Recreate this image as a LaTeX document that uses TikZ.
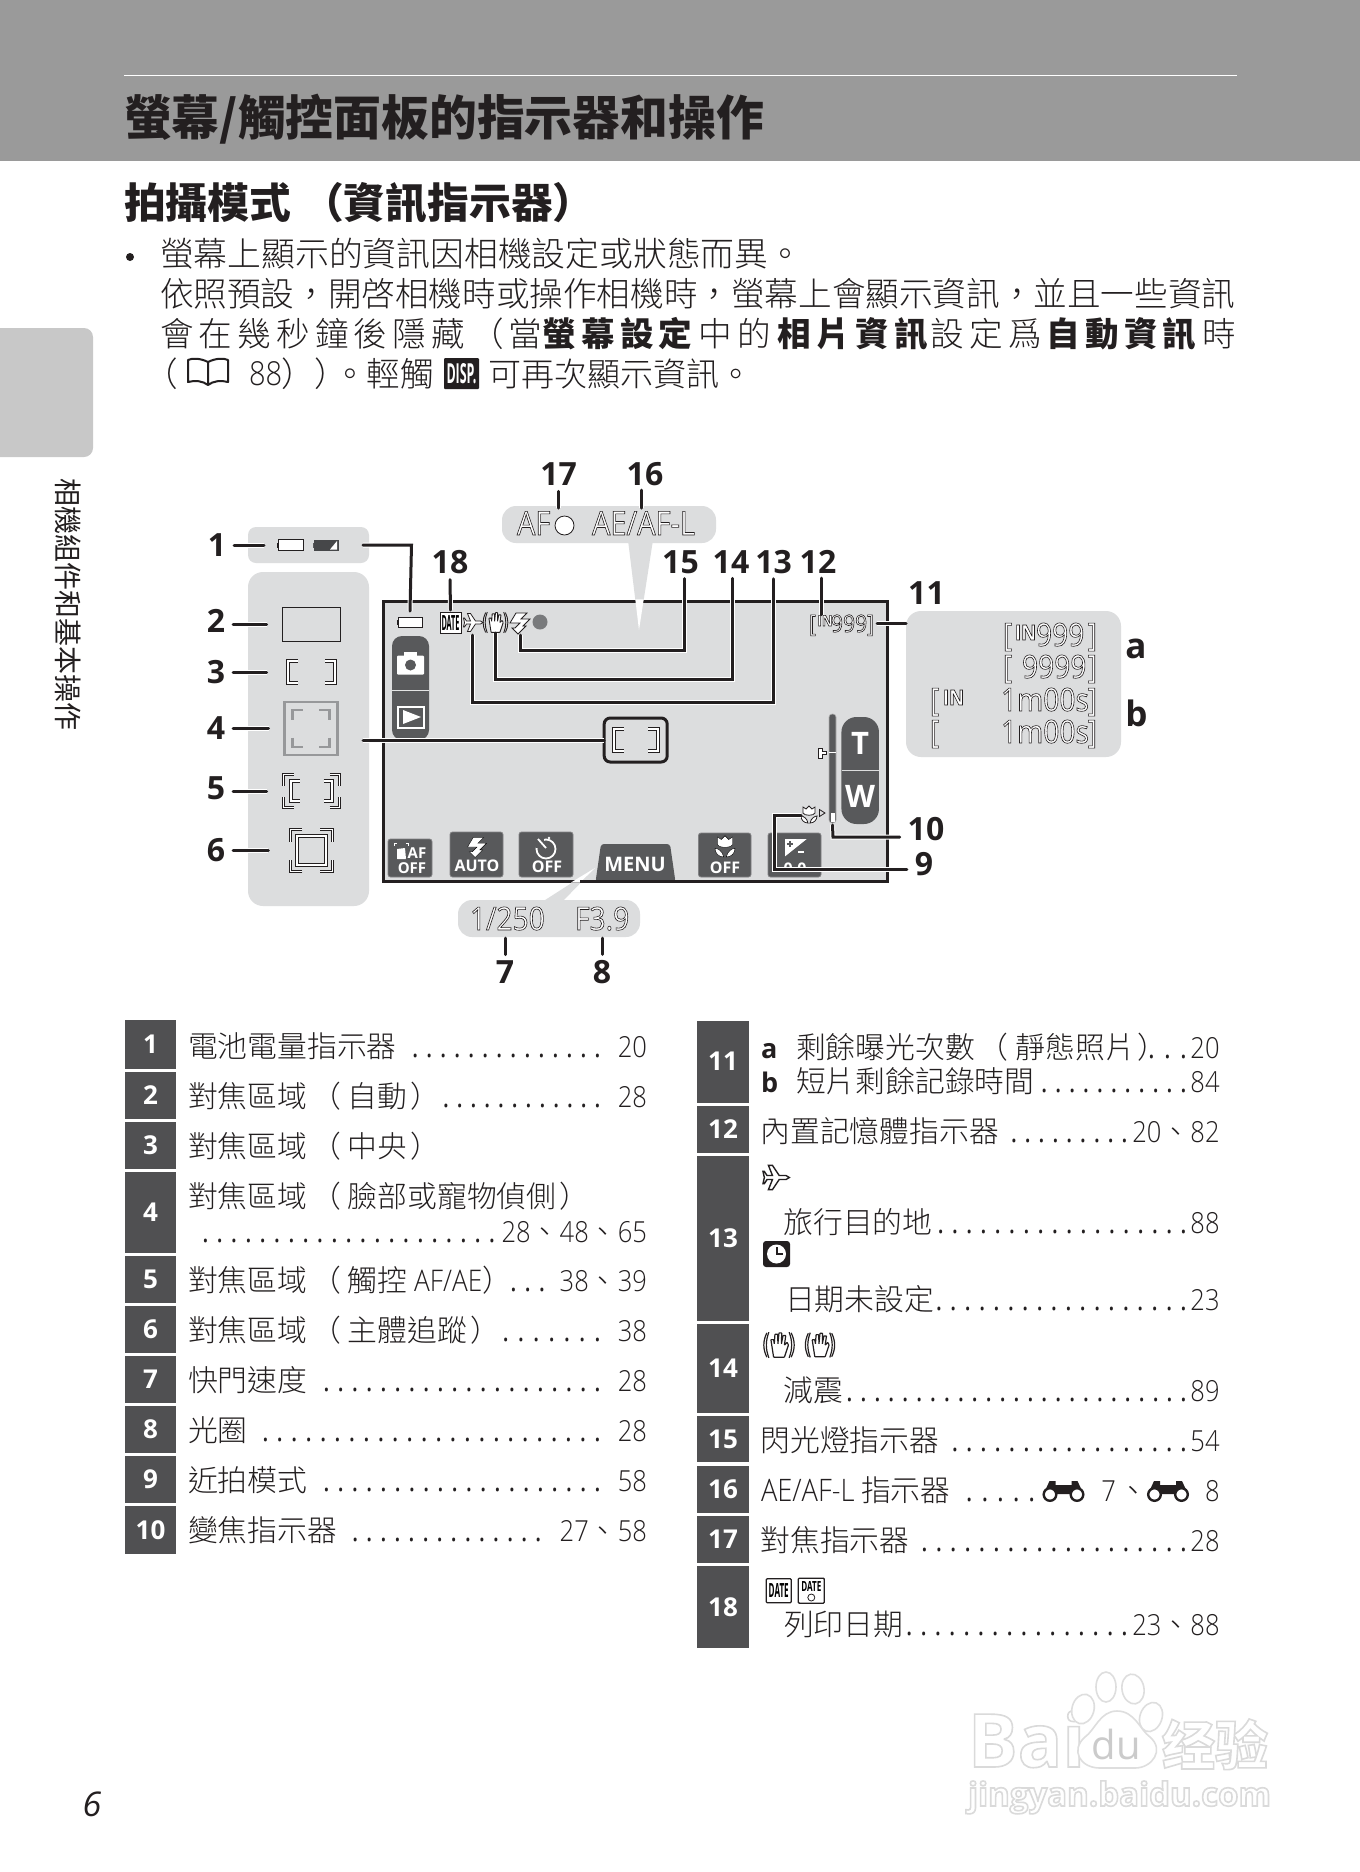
\documentclass[tikz,border=0pt]{standalone}
\usepackage{fontspec}
\usepackage{graphicx}
\setmainfont{Open Sans}
\IfFontExistsTF{Noto Sans CJK TC Light}{\newfontfamily\cjk{Noto Sans CJK TC Light}\newfontfamily\cjkls[LetterSpace=15.4]{Noto Sans CJK TC Light}}{\newfontfamily\cjk{Noto Sans CJK TC}\newfontfamily\cjkls[LetterSpace=15.4]{Noto Sans CJK TC}}
\newfontfamily\cjkr{Noto Sans CJK TC}
\newfontfamily\cjklsb[LetterSpace=15.4]{Noto Sans CJK TC}
\newfontfamily\wmsc{Noto Sans CJK SC}
\IfFontExistsTF{Open Sans Light}{\newfontfamily\nmf[FakeStretch=.88]{Open Sans Light}}{\newfontfamily\nmf[FakeStretch=.88]{Open Sans}}
\newfontfamily\olf[FakeStretch=.88]{Open Sans}
\IfFontExistsTF{Open Sans SemiBold}{\newfontfamily\olb[FakeStretch=.88]{Open Sans SemiBold}}{\newfontfamily\olb[FakeStretch=.88]{Open Sans}}
\newcommand\fs[1]{\fontsize{#1}{#1}\selectfont}
\definecolor{k}{HTML}{231F20}
\definecolor{hdr}{HTML}{9A9A9A}
\definecolor{tabc}{HTML}{C8C8C8}
\definecolor{pan}{HTML}{DCDDDE}
\definecolor{dk}{HTML}{58595B}
\definecolor{bdg}{HTML}{505052}
\definecolor{wm}{HTML}{DEDEDE}
\definecolor{g4}{HTML}{97989A}
\def\olcs{0.137 0.122 0.125 RG}
\def\olw{0.6}
\newcommand\olt[1]{{\color{white}\special{pdf:code \olcs\space \olw\space w 2 Tr}#1\special{pdf:code 0 Tr}}}
\newcommand\clp{\hspace{4pt}（\hspace{7pt}}
\newcommand\crp{\hspace{3pt}）}
\newcommand\dn{{\cjk 、}}
\tikzset{x=1pt,y=-1pt,inner sep=0pt,outer sep=0pt,
 lbl/.style={font=\bfseries\fs{32},text=k},
 lead/.style={draw=k,line width=3pt,line cap=round,miter limit=10,preaction={draw=white,line width=5pt}},
 panel/.style={fill=pan,rounded corners=15pt},
 bdgst/.style={fill=bdg,text=white,font=\bfseries\fs{26}},
 tx/.style={font=\cjk\fs{29.8},text=k,anchor=base west},
 pgt/.style={font=\nmf\fs{29},text=k,anchor=base east},
 dt/.style={font=\olf\fs{29},text=k,anchor=base east},
 btnst/.style={fill=dk,draw=dk!75!white,line width=.8pt,rounded corners=2.5pt},
 btx/.style={font=\bfseries\fs{16},text=white},
 dbl/.style={draw=k,line width=.7pt,double=white,double distance=2.2pt,miter limit=10},
 dbls/.style={draw=k,line width=.7pt,double=white,double distance=1.6pt,miter limit=10},
 gry/.style={draw=g4,line width=2.6pt},
 whl/.style={fill=white,draw=k,line width=.8pt,line join=miter},
 whb/.style={fill=white,draw=k,line width=1.4pt,line join=miter},
 ol/.style={text=k,anchor=base west},
}
\newcommand\bdge[6]{\node[bdgst,minimum width={(#3-#2)*1pt},minimum height={(#5-#4)*1pt}] (#1) at ({(#2+#3)/2},{(#4+#5)/2}) {#6};}
\newcommand\trow[4]{\node[tx] (#1) at (#2,#3) {#4};}
\newcommand\dts[5]{\pgfmathsetmacro\dsp{(#4-#3)/(#2-1)}\node[dt] (#1) at (#4+\dsp/2,#5) {\foreach\i in {1,...,#2}{\makebox[\dsp pt]{.}}};}
\newcommand\pgn[4]{\node[pgt] (#1) at (#2,#3) {#4};}
\newcommand\btn[5]{\node[btnst,minimum width={(#3-#2)*1pt},minimum height={(#5-#4)*1pt}] (#1) at ({(#2+#3)/2},{(#4+#5)/2}) {};}
\newcommand\planeic[4]{\begin{scope}[shift={(#1,#2)},scale=#3]\draw[#4] (19.5,10) -- (17,8.5) -- (12,8.5) -- (7,1) -- (4,1) -- (7,8.5) -- (3,8.5) -- (1,5.5) -- (0,5.5) -- (1,10) -- (0,14.5) -- (1,14.5) -- (3,11.5) -- (7,11.5) -- (4,19) -- (7,19) -- (12,11.5) -- (17,11.5) -- cycle;\end{scope}}
\newcommand\handic[4]{\begin{scope}[shift={(#1,#2)},scale=#3]
\foreach\s in {1,-1}{\draw[k,line width=#4] (\s*9,-9) .. controls (\s*12,-3) and (\s*12,3) .. (\s*9,9);\draw[k,line width=#4] (\s*7.5,-9.5) .. controls (\s*10,-3) and (\s*10,3) .. (\s*7.5,9.5);}
\draw[fill=white,draw=k,line width=#4,rounded corners=.5pt] (-4,9) -- (-6,-4) -- (-4,-4) -- (-3.5,-1) -- (-3,-8) -- (-1,-8) -- (-.8,-1) -- (0,-9) -- (2,-9) -- (1.8,-1) -- (3,-7) -- (5,-7) -- (4,0) -- (6,-2) -- (7,0) -- (4,9) -- cycle;\end{scope}}
\newcommand\boltic[4]{\begin{scope}[shift={(#1,#2)},scale=#3]\draw[#4] (6,0) -- (17,0) -- (11,6) -- (20,6) -- (13,13) -- (16,13) -- (8,21) -- (2,15) -- (5,15) -- (10,10) -- (0,10) -- cycle;\end{scope}}
\newcommand\tulip[4]{\begin{scope}[shift={(#1,#2)},scale=#3]\draw[#4] (-6,-8) -- (-3,-6) -- (0,-9) -- (3,-6) -- (6,-8) -- (6,-2) .. controls (5,1) and (-5,1) .. (-6,-2) -- cycle;\draw[#4] (-8,1) .. controls (-6,1) and (-2,3) .. (-1,8) .. controls (-5,8) and (-8,5) .. (-8,1) -- cycle;\draw[#4] (8,1) .. controls (6,1) and (2,3) .. (1,8) .. controls (5,8) and (8,5) .. (8,1) -- cycle;\end{scope}}
\newcommand\binoc[2]{\begin{scope}[shift={(#1,#2)}]\fill[k] (-14,-10) -- (-8,-10) -- (-8,-6) -- (8,-6) -- (8,-10) -- (14,-10) -- (20,3) -- (-20,3) -- cycle;\fill[k] (-8,-5) rectangle (8,1);\foreach\s in {1,-1}{\draw[k,line width=2.4pt,fill=white] (\s*13.5,3.5) circle (6.3);}\end{scope}}
\begin{document}
\begin{tikzpicture}
\useasboundingbox (0,0) rectangle (1360,1872);
\fill[white] (0,0) rectangle (1360,1872);
% ---------- page furniture
\fill[hdr] (0,0) rectangle (1360,161);
\draw[white,line width=1.6pt] (124,75.5) -- (1237,75.5);
\node[font=\cjkr\bfseries\fs{47.8},text=k,anchor=base west] (title) at (124,135) {螢幕/觸控面板的指示器和操作};
\node[font=\cjkr\bfseries\fs{41.8},text=k,anchor=base west] (head) at (124,218.5) {拍攝模式\hspace{11pt}（資訊指示器）};
\fill[k] (130,257) circle (4);
\node[font=\cjk\fs{33.8},text=k,anchor=base west] (l1) at (160,266) {螢幕上顯示的資訊因相機設定或狀態而異。};
\node[font=\cjk\fs{33.6},text=k,anchor=base west] (l2) at (160,306) {依照預設，開啓相機時或操作相機時，螢幕上會顯示資訊，並且一些資訊};
\node[font=\cjkls\fs{33.6},text=k,anchor=base west] (l3) at (160,346) {會在幾秒鐘後隱藏（當{\cjklsb\bfseries 螢幕設定}\hspace{6pt}中的\hspace{7pt}{\cjklsb\bfseries 相片資訊}\hspace{3pt}設定爲\hspace{4.6pt}{\cjklsb\bfseries 自動資訊}\hspace{6pt}時};
\node[font=\cjk\fs{33.6},text=k,anchor=base west] (l4a) at (144,386) {（};
\draw[k,line width=2pt,line join=round] (208,362) .. controls (200,358) and (192,358) .. (188,360) -- (188,382) .. controls (195,380) and (203,381) .. (208,385) .. controls (213,381) and (221,380) .. (228,382) -- (228,360) .. controls (224,358) and (216,358) .. (208,362) -- (208,385);
\node[font=\nmf\fs{33},text=k,anchor=base west] (l4b) at (249,385) {88};
\node[font=\cjk\fs{33.6},text=k,anchor=base west] (l4c) at (281,386) {））\hspace{-15pt}。輕觸};
\node[fill=k,rounded corners=1pt,minimum width=35pt,minimum height=31pt,text=white] (disp) at (461.5,373.5) {\resizebox{30pt}{20pt}{\bfseries DISP.}};
\node[font=\cjk\fs{33},text=k,anchor=base west] (l4d) at (488,386) {可再次顯示資訊。};
\fill[tabc] (0,328) [rounded corners=9pt] -- (93,328) -- (93,457) [sharp corners] -- (0,457) -- cycle;
\node[font=\cjkr\fs{28},text=k,rotate=-90] (side) at (68,604) {相機組件和基本操作};
\node[font=\itshape\fs{34},text=k,anchor=base] (pageno) at (92,1816) {6};
% ---------- panels
\node[panel,rounded corners=8pt,minimum width=121pt,minimum height=36pt] (pb) at (308.5,545) {};
\node[panel,minimum width=121pt,minimum height=334pt] (pl) at (308.5,739) {};
\node[panel,rounded corners=14pt,minimum width=214pt,minimum height=37pt] (bub) at (609,524.5) {};
\node[panel,rounded corners=14pt,minimum width=182pt,minimum height=37pt] (bub2) at (549,918.5) {};
\node[panel,minimum width=215pt,minimum height=146pt] (pr) at (1013.5,684) {};
\fill[pan] (628,540) -- (639,630) -- (653,540) -- cycle;
\fill[pan] (542,902) -- (595,868) -- (562,902) -- cycle;
% ---------- screen
\node[fill=pan,draw=k,line width=3pt,minimum width=503.5pt,minimum height=280pt] (scr) at (635.25,741) {};
\fill[white] (635.3,599.4) -- (639,630) -- (643.7,599.4) -- cycle;
\fill[white] (571,882.5) -- (595,868) -- (580,882.5) -- cycle;
% battery group
\node[minimum width=25pt,minimum height=11pt,draw=k,line width=1pt,fill=white] (bat1) at (290.5,545) {};
\fill[k] (276.5,542.5) rectangle (278,547.5);
\node[minimum width=25pt,minimum height=11pt,fill=dk!80!black] (bat2) at (326.5,545) {};
\fill[dk] (312.5,542.5) rectangle (314,547.5);
\fill[white] (330,549.5) -- (337,549.5) -- (337,541) -- cycle;
\node[minimum width=24pt,minimum height=10pt,draw=k,line width=1pt,fill=white] (bat3) at (410,622) {};
\fill[k] (396.5,619.5) rectangle (398,624.5);
% focus icons
\node[draw=k,line width=1pt,minimum width=58pt,minimum height=34pt] (fa2) at (311.6,624) {};
\node[minimum width=50pt,minimum height=24pt] (fa3) at (311.6,672) {};
\draw[dbl] (298,661) -- (288,661) -- (288,683) -- (298,683);
\draw[dbl] (325,661) -- (335,661) -- (335,683) -- (325,683);
\node[draw=g4,line width=2.6pt,minimum width=53pt,minimum height=53pt] (fa4) at (311,728.5) {};
\foreach\a/\b in {1/1,-1/1,1/-1,-1/-1}{\draw[gry] (311-\a*18.5,728.5-\b*9) -- (311-\a*18.5,728.5-\b*18.5) -- (311-\a*8,728.5-\b*18.5);}
\node[minimum width=58pt,minimum height=34pt] (fa5) at (311.6,791) {};
\foreach\a in {1,-1}{\draw[dbl] (311.6-\a*12,781) -- (311.6-\a*20.5,781) -- (311.6-\a*20.5,801) -- (311.6-\a*12,801);
\foreach\b in {1,-1}{\draw[dbls] (311.6-\a*18,791-\b*16.5) -- (311.6-\a*28,791-\b*16.5) -- (311.6-\a*28,791-\b*5.5);}}
\node[minimum width=44pt,minimum height=45pt] (fa6) at (311.3,850.5) {};
\draw[dbl] (297,836) rectangle (326,865);
\foreach\a in {1,-1}{\foreach\b in {1,-1}{\draw[dbls] (311.3-\a*9,850.5-\b*21) -- (311.3-\a*21,850.5-\b*21) -- (311.3-\a*21,850.5-\b*9);}}
% camera / play pill
\fill[dk,rounded corners=10pt] (392,636) rectangle (429,740);
\draw[pan!80!white,line width=.7pt] (392,690) -- (429,690);
\node[fill=white,rounded corners=1pt,minimum width=27pt,minimum height=19pt] (cam) at (410.5,665) {};
\fill[white] (404,656) rectangle (417,652);
\fill[dk] (410.5,665) circle (5.5);
\node[fill=dk,draw=white,line width=2pt,minimum width=26pt,minimum height=21pt] (play) at (411,717) {};
\fill[white] (403,710) -- (421,717) -- (403,724) -- cycle;
% screen status icons
\node[draw=k,line width=1pt,fill=white,minimum width=21pt,minimum height=21pt] (idate) at (450.5,622.5) {\resizebox{18pt}{15pt}{\bfseries DATE}};
\planeic{463.5}{612.5}{1}{whl}
\node[minimum width=22pt,minimum height=21pt] (iplane) at (473.5,622.5) {};
\handic{495.5}{622.5}{1.1}{.9pt}
\node[minimum width=22pt,minimum height=21pt] (ihand) at (495.5,622.5) {};
\boltic{510}{613}{1}{whl}
\node[minimum width=20pt,minimum height=22pt] (ibolt) at (520,624) {};
\node[circle,fill=dk!80!white,minimum size=15pt] (idot) at (540,622) {};
% center focus
\node[draw=k,line width=3pt,rounded corners=6pt,minimum width=63pt,minimum height=44pt] (fc) at (635.7,740) {};
\draw[dbl] (624,729) -- (614,729) -- (614,751) -- (624,751);
\draw[dbl] (648,729) -- (658,729) -- (658,751) -- (648,751);
% counter on screen
\node[ol,font=\olb\fs{24}] (c1) at (809,632) {\olt{[}};
\node[ol,font=\olf\bfseries\fs{15}] (c2) at (817.5,626) {\olt{IN}};
\node[ol,font=\olb\fs{24}] (c3) at (831,632) {\olt{999}};
\node[text=k,anchor=base east,font=\olb\fs{24}] (c4) at (874,632) {\olt{]}};
% bottom buttons
\btn{bAF}{388}{432}{839}{877}
\node[btx,font=\bfseries\fs{15}] (bAFa) at (417,853) {AF};
\node[btx,font=\bfseries\fs{15}] (bAFb) at (412,868) {OFF};
\draw[white,line width=1pt] (394,846) -- (394,843.5) -- (397,843.5) (406,843.5) -- (408,843.5) -- (408,846);
\fill[white,rounded corners=.5pt] (397,859) -- (397,849) -- (405,848) -- (406,859) -- cycle;
\btn{bAu}{450}{503}{832}{877}
\boltic{467.5}{837.5}{.95}{fill=white}
\node[btx] (bAut) at (477,866) {AUTO};
\btn{bTm}{519}{573}{832}{877}
\draw[white,line width=1.8pt] (546,849) circle (9.5);
\fill[dk] (536,837) -- (544,837) -- (544,848) -- (536,848) -- cycle;
\draw[white,line width=1.8pt] (538,839) -- (546,848);
\fill[white] (549,838) circle (1.3);
\node[btx] (bTmt) at (547,867) {OFF};
\btn{bMc}{698.5}{751}{833}{877}
\tulip{725}{847}{1.25}{fill=white}
\node[btx] (bMct) at (725,868) {OFF};
\btn{bEv}{768}{821}{833}{877}
\fill[white] (784.5,839) rectangle (807,857);
\fill[dk] (784.5,857) -- (807,839) -- (807,857) -- cycle;
\draw[dk,line width=1.2pt] (787,844) -- (793,844) (790,841) -- (790,847);
\draw[white,line width=1.2pt] (798,852) -- (804,852);
\begin{scope}\clip (770,856) rectangle (820,869);\node[btx,font=\bfseries\fs{16}] (bEvt) at (795,869) {0.0};\end{scope}
\fill[dk,rounded corners=3pt] (601,844) -- (670,844) -- (675.5,882) -- (595.5,882) -- cycle;
\node[font=\bfseries\fs{20},text=white] (menu) at (635,864) {MENU};
\draw[k,line width=3pt] (383.5,881) -- (571,881) (580,881) -- (887,881);
% zoom indicator
\node[fill=dk,draw=gray!60!white,line width=.6pt,rounded corners=3pt,minimum width=7pt,minimum height=109pt] (zb) at (832.5,768.5) {};
\fill[white] (830.5,813) rectangle (834.5,821.5);
\draw[white,line width=.5pt] (829,752) -- (836,752);
\draw[whl] (818,748) -- (822,748) -- (822,751) -- (826,751) -- (826,754) -- (822,754) -- (822,758) -- (818,758) -- cycle;
\node[fill=dk,rounded corners=15pt,minimum width=37.5pt,minimum height=107pt] (tw) at (860.2,770.5) {};
\draw[pan,line width=.7pt] (841.5,770) -- (879,770);
\node[font=\bfseries\fs{31},text=white] (tT) at (860,743) {T};
\node[font=\bfseries\fs{31},text=white] (tW) at (860,796) {W};
\tulip{809}{815}{1}{whl}
\node[minimum width=16pt,minimum height=14pt] (imac) at (809,815) {};
\draw[whl,fill=none] (819.5,809.5) -- (825,813) -- (819.5,816.5) -- cycle;
% bubble texts
\node[ol,font=\olb\fs{33}] (af) at (517,535) {\olt{AF}};
\draw[whl] (564.5,525.5) circle (9.5);
\node[ol,font=\olb\fs{33}] (ael) at (592,535) {\olt{AE/AF-L}};
\node[ol,font=\olb\fs{32}] (sp) at (470,930) {\olt{1/250}};
\node[ol,font=\olb\fs{32}] (fn) at (575,930) {\olt{F3.9}};
% right panel
\node[ol,font=\olb\fs{32}] (r1a) at (1003,646) {\olt{[}};
\node[ol,font=\olf\bfseries\fs{21}] (r1b) at (1015,640) {\olt{IN}};
\node[ol,font=\olb\fs{32}] (r1c) at (1036,646) {\olt{999}};
\node[text=k,anchor=base east,font=\olb\fs{32}] (r1d) at (1097,646) {\olt{]}};
\node[ol,font=\olb\fs{32}] (r2a) at (1003,678) {\olt{[}};
\node[ol,font=\olb\fs{32}] (r2c) at (1022,678) {\olt{9999}};
\node[text=k,anchor=base east,font=\olb\fs{32}] (r2d) at (1097,678) {\olt{]}};
\node[ol,font=\olb\fs{32}] (r3a) at (930,711) {\olt{[}};
\node[ol,font=\olf\bfseries\fs{21}] (r3b) at (943,705) {\olt{IN}};
\node[ol,font=\olb\fs{32}] (r3c) at (1001,711) {\olt{1m00s}};
\node[text=k,anchor=base east,font=\olb\fs{32}] (r3d) at (1097,711) {\olt{]}};
\node[ol,font=\olb\fs{32}] (r4a) at (930,743) {\olt{[}};
\node[ol,font=\olb\fs{32}] (r4c) at (1001,743) {\olt{1m00s}};
\node[text=k,anchor=base east,font=\olb\fs{32}] (r4d) at (1097,743) {\olt{]}};
% ---------- labels
\foreach\n/\t/\px/\py in {n1/1/217/545,n2/2/216/621,n3/3/216/672,n4/4/216/728,n5/5/216/788,n6/6/216/850,n17/17/558.6/474,n16/16/645/474,n18/18/450/562,n15/15/680.5/562,n14/14/731/562,n13/13/773.6/562,n12/12/818/562,n11/11/926.5/593,n10/10/926/829,n9/9/924/864,n7/7/505/972,n8/8/602/972}{\node[lbl] (\n) at (\px,\py) {\t};}
\node[lbl,font=\bfseries\fs{35},anchor=base] (na) at (1136,658) {a};
\node[lbl,font=\bfseries\fs{35},anchor=base] (nb) at (1136.5,726) {b};
% ---------- leaders
\coordinate (c1) at (411.5,545);
\coordinate (c15) at (684,650);
\coordinate (c14) at (732,679);
\coordinate (c13) at (773.6,702);
\coordinate (c16) at (641,490);
\coordinate (c12) at (821.5,578);
\coordinate (c9) at (774,869);
\coordinate (c10) at (833,837);
\coordinate (c11) at (877,623);
\draw[lead] ([xshift=8pt]n1.east |- bat1.west) -- ([xshift=-14pt]bat1.west);
\draw[lead] ([xshift=-6pt]pb.east) -- (c1) -- ([yshift=6pt]bat3.north);
\draw[lead] ([xshift=8pt]n2.east |- fa2.west) -- ([xshift=-16pt]fa2.west);
\draw[lead] ([xshift=8pt]n3.east |- fa3.west) -- ([xshift=-20pt]fa3.west);
\draw[lead] ([xshift=8pt]n4.east |- fa4.west) -- ([xshift=-16pt]fa4.west);
\draw[lead] ([xshift=8pt]n5.east |- fa5.west) -- ([xshift=-16pt]fa5.west);
\draw[lead] ([xshift=8pt]n6.east |- fa6.west) -- ([xshift=-21pt]fa6.west);
\draw[lead] ([xshift=-6pt]pl.east |- fc.west) -- (fc.west);
\draw[lead] ([yshift=-6pt]n17.south) -- ([yshift=-2pt]n17.south |- bub.north);
\draw[lead] (c16) -- ([yshift=-2pt]c16 |- bub.north);
\draw[lead] ([yshift=-6pt]n18.south) -- ([yshift=2pt]idate.north);
\draw[lead] (ibolt.south) -- (ibolt.south |- c15) -- (c15) -- ([yshift=-5pt]c15 |- n15.south);
\draw[lead] (ihand.south) -- (ihand.south |- c14) -- (c14) -- ([yshift=-5pt]c14 |- n14.south);
\draw[lead] ([xshift=-1.5pt,yshift=-2pt]iplane.south) -- ([xshift=-1.5pt]iplane.south |- c13) -- (c13) -- ([yshift=-5pt]c13 |- n13.south);
\draw[lead] (c12) -- (c12 |- c3.north);
\draw[lead] (c11) -- (c11 -| pr.west);
\draw[lead] ([yshift=-2pt]zb.south) -- (c10) -- ([xshift=-8pt]n10.west |- c10);
\draw[lead] (imac.west) -- (imac.west -| c9) -- (c9) -- ([xshift=-8pt]n9.west |- c9);
\draw[lead] ([yshift=-1pt]bub2.south -| n7) -- ([yshift=6pt]n7.north);
\draw[lead] ([yshift=-1pt]bub2.south -| n8) -- ([yshift=6pt]n8.north);
% ---------- left table
\bdge{b1}{125}{176}{1020}{1069}{1}
\bdge{b2}{125}{176}{1072}{1119}{2}
\bdge{b3}{125}{176}{1122}{1169}{3}
\bdge{b4}{125}{176}{1172}{1253}{4}
\bdge{b5}{125}{176}{1256}{1303}{5}
\bdge{b6}{125}{176}{1306}{1353}{6}
\bdge{b7}{125}{176}{1356}{1403}{7}
\bdge{b8}{125}{176}{1406}{1453}{8}
\bdge{b9}{125}{176}{1456}{1503}{9}
\bdge{b10}{125}{176}{1506}{1554}{10}
\trow{t1}{188}{1057}{電池電量指示器}\dts{d1}{14}{415.2}{597.6}{1057}\pgn{p1}{647}{1057}{20}
\trow{t2}{188}{1107}{對焦區域\clp 自動\crp}\dts{d2}{12}{445.9}{597.6}{1107}\pgn{p2}{647}{1107}{28}
\trow{t3}{188}{1157}{對焦區域\clp 中央\crp}
\trow{t4}{188}{1207}{對焦區域\clp 臉部或寵物偵側\crp}\dts{d4}{21}{205.4}{492.2}{1242}\pgn{p4}{647}{1242}{28\dn 48\dn 65}
\trow{t5}{188}{1291}{對焦區域\clp 觸控 {\nmf AF/AE}）}\dts{d5}{3}{513.6}{542}{1291}\pgn{p5}{647}{1291}{38\dn 39}
\trow{t6}{188}{1341}{對焦區域\clp 主體追蹤\crp}\dts{d6}{7}{505.8}{597.6}{1341}\pgn{p6}{647}{1341}{38}
\trow{t7}{188}{1391}{快門速度}\dts{d7}{20}{326.4}{597.6}{1391}\pgn{p7}{647}{1391}{28}
\trow{t8}{188}{1441}{光圈}\dts{d8}{24}{265.4}{597.6}{1441}\pgn{p8}{647}{1441}{28}
\trow{t9}{188}{1491}{近拍模式}\dts{d9}{20}{326.4}{597.6}{1491}\pgn{p9}{647}{1491}{58}
\trow{t10}{188}{1541}{變焦指示器}\dts{d10}{14}{355.3}{538.4}{1541}\pgn{p10}{647}{1541}{27\dn 58}
% ---------- right table
\bdge{b11}{697}{749}{1020.5}{1102.6}{11}
\bdge{b12}{697}{749}{1106}{1153}{12}
\bdge{b13}{697}{749}{1156}{1320.6}{13}
\bdge{b14}{697}{749}{1324}{1413}{14}
\bdge{b15}{697}{749}{1416}{1462.4}{15}
\bdge{b16}{697}{749}{1466}{1513}{16}
\bdge{b17}{697}{749}{1516}{1562.6}{17}
\bdge{b18}{697}{749}{1566}{1647.6}{18}
\node[anchor=base west,font=\bfseries\fs{27},text=k] (ta) at (761,1058) {a};
\trow{t11a}{796}{1058}{剩餘曝光次數\clp 靜態照片\crp}\dts{d11a}{3}{1151.4}{1183.6}{1058}\pgn{p11a}{1219.6}{1058}{20}
\node[anchor=base west,font=\bfseries\fs{27},text=k] (tb) at (761,1092) {b};
\trow{t11b}{796}{1092}{短片剩餘記錄時間}\dts{d11b}{11}{1044.3}{1183.6}{1092}\pgn{p11b}{1219.6}{1092}{84}
\trow{t12}{760.5}{1142}{內置記憶體指示器}\dts{d12}{9}{1013.9}{1124.6}{1142}\pgn{p12}{1219.6}{1142}{20\dn 82}
\planeic{763}{1164}{1.35}{whb}
\trow{t13a}{783.5}{1233}{旅行目的地}\dts{d13a}{18}{940.7}{1183.6}{1233}\pgn{p13a}{1219.6}{1233}{88}
\node[fill=k,rounded corners=3pt,minimum width=27pt,minimum height=26pt] (clk) at (776.5,1254) {};
\fill[white] (776.5,1254) circle (9.5);
\draw[k,line width=2pt] (776.5,1247) -- (776.5,1254) -- (783,1254);
\trow{t13b}{785}{1310}{日期未設定}\dts{d13b}{18}{939}{1183.6}{1310}\pgn{p13b}{1219.6}{1310}{23}
\handic{779}{1345}{1.35}{1.2pt}
\handic{820}{1345}{1.3}{1.2pt}
\trow{t14}{783.5}{1401}{減震}\dts{d14}{25}{849.6}{1183.6}{1401}\pgn{p14}{1219.6}{1401}{89}
\trow{t15}{760.5}{1451}{閃光燈指示器}\dts{d15}{17}{955}{1183.6}{1451}\pgn{p15}{1219.6}{1451}{54}
\trow{t16}{761}{1501}{{\nmf\fs{31}AE/AF-L} 指示器}\dts{d16}{5}{969.3}{1031.8}{1501}
\binoc{1063.5}{1491}
\pgn{p16a}{1116}{1501}{7}
\node[tx] (p16b) at (1118,1501) {、};
\binoc{1168}{1491}
\pgn{p16c}{1219.6}{1501}{8}
\trow{t17}{760.5}{1551}{對焦指示器}\dts{d17}{19}{924.6}{1183.6}{1551}\pgn{p17}{1219.6}{1551}{28}
\node[draw=k,line width=1.3pt,fill=white,rounded corners=1pt,minimum width=25pt,minimum height=24pt] (da) at (778.7,1590.7) {\resizebox{20pt}{14pt}{\bfseries DATE}};
\node[draw=k,line width=1.3pt,fill=white,rounded corners=1pt,minimum width=26pt,minimum height=25pt] (db) at (811.3,1590.7) {};
\node[font=\bfseries] at (811.3,1586.5) (dbt) {\resizebox{20pt}{10pt}{DATE}};
\draw[k,line width=.8pt] (811.3,1597.5) circle (3.5);
\trow{t18}{784}{1635}{列印日期}\dts{d18}{16}{909.3}{1124.6}{1635}\pgn{p18}{1219.6}{1635}{23\dn 88}
% ---------- watermark
\begin{scope}
\def\olcs{0.855 0.855 0.855 RG}\def\olw{1.6}
\node[ol,font=\bfseries\fs{74}] (wm1) at (968,1767) {\olt{Bai}};
\foreach\cx/\cy/\rx/\ry/\ang in {1083/1709/11/15/-15,1106/1687/10/15/0,1133/1689/11/15/10,1151/1717/11/15/-20}{\draw[wm,line width=1.6pt,fill=white,rotate around={\ang:(\cx,\cy)}] (\cx,\cy) ellipse ({\rx} and {\ry});}
\draw[wm,line width=1.6pt,fill=white] (1117,1711) .. controls (1135,1711) and (1140,1730) .. (1150,1737) .. controls (1165,1750) and (1152,1768) .. (1135,1768) -- (1100,1768) .. controls (1080,1768) and (1070,1750) .. (1085,1737) .. controls (1095,1730) and (1100,1711) .. (1117,1711) -- cycle;
\node[font=\fs{40},text=wm!80!gray,anchor=base] (wm2) at (1116,1759) {du};
\node[ol,font=\wmsc\bfseries\fs{53}] (wm3) at (1162,1765) {\olt{经验}};
\node[ol,font=\bfseries\fs{33}] (wm4) at (968,1806) {\olt{jingyan.baidu.com}};
\end{scope}
\end{tikzpicture}
\end{document}
